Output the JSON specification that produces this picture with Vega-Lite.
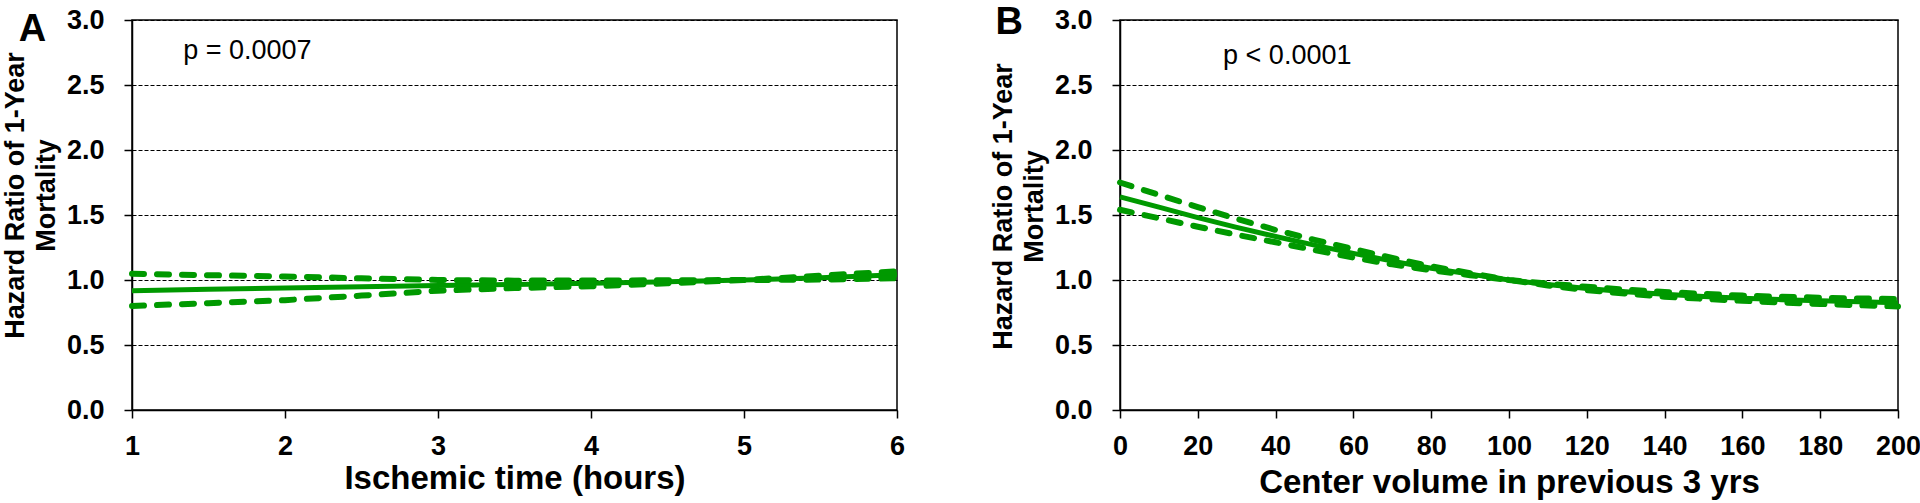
{
  "$schema": "https://vega.github.io/schema/vega-lite/v6.json",
  "padding": {"left": 0, "top": 3, "right": 0, "bottom": 0},
  "bounds": "flush",
  "spacing": 223,
  "background": "white",
  "config": {
    "font": "Liberation Sans",
    "view": {"stroke": "black", "strokeWidth": 1.5},
    "axis": {
      "domainColor": "black", "domainWidth": 1.5,
      "tickColor": "black", "tickWidth": 1.5, "tickSize": 8,
      "labelFont": "Liberation Sans", "labelFontWeight": "bold", "labelFontSize": 27, "labelColor": "black",
      "labelFlush": false, "labelOverlap": false,
      "titleFont": "Liberation Sans", "titleFontWeight": "bold", "titleColor": "black"
    }
  },
  "datasets": {
    "A": [
      {"hours": 1.0, "band": "estimate", "hr": 0.918}, {"hours": 1.0, "band": "lower", "hr": 0.800}, {"hours": 1.0, "band": "upper", "hr": 1.048},
      {"hours": 1.5, "band": "estimate", "hr": 0.928}, {"hours": 1.5, "band": "lower", "hr": 0.822}, {"hours": 1.5, "band": "upper", "hr": 1.037},
      {"hours": 2.0, "band": "estimate", "hr": 0.938}, {"hours": 2.0, "band": "lower", "hr": 0.845}, {"hours": 2.0, "band": "upper", "hr": 1.027},
      {"hours": 2.5, "band": "estimate", "hr": 0.948}, {"hours": 2.5, "band": "lower", "hr": 0.880}, {"hours": 2.5, "band": "upper", "hr": 1.013},
      {"hours": 3.0, "band": "estimate", "hr": 0.958}, {"hours": 3.0, "band": "lower", "hr": 0.918}, {"hours": 3.0, "band": "upper", "hr": 1.000},
      {"hours": 3.5, "band": "estimate", "hr": 0.966}, {"hours": 3.5, "band": "lower", "hr": 0.938}, {"hours": 3.5, "band": "upper", "hr": 0.995},
      {"hours": 4.0, "band": "estimate", "hr": 0.975}, {"hours": 4.0, "band": "lower", "hr": 0.952}, {"hours": 4.0, "band": "upper", "hr": 0.996},
      {"hours": 4.5, "band": "estimate", "hr": 0.987}, {"hours": 4.5, "band": "lower", "hr": 0.975}, {"hours": 4.5, "band": "upper", "hr": 0.998},
      {"hours": 5.0, "band": "estimate", "hr": 1.000}, {"hours": 5.0, "band": "lower", "hr": 1.000}, {"hours": 5.0, "band": "upper", "hr": 1.000},
      {"hours": 5.5, "band": "estimate", "hr": 1.018}, {"hours": 5.5, "band": "lower", "hr": 1.003}, {"hours": 5.5, "band": "upper", "hr": 1.033},
      {"hours": 6.0, "band": "estimate", "hr": 1.040}, {"hours": 6.0, "band": "lower", "hr": 1.013}, {"hours": 6.0, "band": "upper", "hr": 1.067}
    ],
    "B": [
      {"volume": 0, "band": "estimate", "hr": 1.640}, {"volume": 0, "band": "lower", "hr": 1.540}, {"volume": 0, "band": "upper", "hr": 1.750},
      {"volume": 10, "band": "estimate", "hr": 1.560}, {"volume": 10, "band": "lower", "hr": 1.475}, {"volume": 10, "band": "upper", "hr": 1.655},
      {"volume": 20, "band": "estimate", "hr": 1.480}, {"volume": 20, "band": "lower", "hr": 1.410}, {"volume": 20, "band": "upper", "hr": 1.560},
      {"volume": 30, "band": "estimate", "hr": 1.405}, {"volume": 30, "band": "lower", "hr": 1.348}, {"volume": 30, "band": "upper", "hr": 1.470},
      {"volume": 40, "band": "estimate", "hr": 1.335}, {"volume": 40, "band": "lower", "hr": 1.290}, {"volume": 40, "band": "upper", "hr": 1.385},
      {"volume": 50, "band": "estimate", "hr": 1.268}, {"volume": 50, "band": "lower", "hr": 1.230}, {"volume": 50, "band": "upper", "hr": 1.308},
      {"volume": 60, "band": "estimate", "hr": 1.205}, {"volume": 60, "band": "lower", "hr": 1.172}, {"volume": 60, "band": "upper", "hr": 1.238},
      {"volume": 70, "band": "estimate", "hr": 1.145}, {"volume": 70, "band": "lower", "hr": 1.120}, {"volume": 70, "band": "upper", "hr": 1.170},
      {"volume": 80, "band": "estimate", "hr": 1.090}, {"volume": 80, "band": "lower", "hr": 1.075}, {"volume": 80, "band": "upper", "hr": 1.105},
      {"volume": 90, "band": "estimate", "hr": 1.045}, {"volume": 90, "band": "lower", "hr": 1.037}, {"volume": 90, "band": "upper", "hr": 1.053},
      {"volume": 100, "band": "estimate", "hr": 1.000}, {"volume": 100, "band": "lower", "hr": 1.000}, {"volume": 100, "band": "upper", "hr": 1.000},
      {"volume": 110, "band": "estimate", "hr": 0.965}, {"volume": 110, "band": "lower", "hr": 0.958}, {"volume": 110, "band": "upper", "hr": 0.972},
      {"volume": 120, "band": "estimate", "hr": 0.935}, {"volume": 120, "band": "lower", "hr": 0.922}, {"volume": 120, "band": "upper", "hr": 0.948},
      {"volume": 130, "band": "estimate", "hr": 0.910}, {"volume": 130, "band": "lower", "hr": 0.895}, {"volume": 130, "band": "upper", "hr": 0.926},
      {"volume": 140, "band": "estimate", "hr": 0.890}, {"volume": 140, "band": "lower", "hr": 0.872}, {"volume": 140, "band": "upper", "hr": 0.908},
      {"volume": 150, "band": "estimate", "hr": 0.874}, {"volume": 150, "band": "lower", "hr": 0.855}, {"volume": 150, "band": "upper", "hr": 0.893},
      {"volume": 160, "band": "estimate", "hr": 0.860}, {"volume": 160, "band": "lower", "hr": 0.840}, {"volume": 160, "band": "upper", "hr": 0.880},
      {"volume": 170, "band": "estimate", "hr": 0.849}, {"volume": 170, "band": "lower", "hr": 0.827}, {"volume": 170, "band": "upper", "hr": 0.871},
      {"volume": 180, "band": "estimate", "hr": 0.840}, {"volume": 180, "band": "lower", "hr": 0.816}, {"volume": 180, "band": "upper", "hr": 0.864},
      {"volume": 190, "band": "estimate", "hr": 0.832}, {"volume": 190, "band": "lower", "hr": 0.806}, {"volume": 190, "band": "upper", "hr": 0.858},
      {"volume": 200, "band": "estimate", "hr": 0.825}, {"volume": 200, "band": "lower", "hr": 0.797}, {"volume": 200, "band": "upper", "hr": 0.853}
    ]
  },
  "hconcat": [
    {
      "width": 765,
      "height": 390,
      "encoding": {
        "x": {
          "field": "hours", "type": "quantitative",
          "scale": {"domain": [1, 6], "nice": false, "zero": false},
          "axis": {"values": [1, 2, 3, 4, 5, 6], "title": "Ischemic time (hours)", "titleFontSize": 33, "labelPadding": 15, "titlePadding": 3, "grid": false}
        },
        "y": {
          "field": "hr", "type": "quantitative",
          "scale": {"domain": [0, 3], "nice": false},
          "axis": {
            "values": [0, 0.5, 1, 1.5, 2, 2.5, 3], "format": ".1f",
            "title": ["Hazard Ratio of 1-Year", "Mortality"],
            "titleFontSize": 27, "titleLineHeight": 31, "titlePadding": 6, "titleY": 175,
            "labelPadding": 20,
            "grid": true, "gridDash": [4, 2], "gridColor": "black", "gridWidth": 1
          }
        }
      },
      "layer": [
        {
          "data": {"name": "A"},
          "transform": [{"filter": "datum.band === 'estimate'"}],
          "mark": {"type": "line", "color": "#009900", "strokeWidth": 5}
        },
        {
          "data": {"name": "A"},
          "transform": [{"filter": "datum.band !== 'estimate'"}],
          "mark": {"type": "line", "color": "#009900", "strokeWidth": 6, "strokeDash": [12, 13], "strokeCap": "round"},
          "encoding": {"detail": {"field": "band"}}
        },
        {
          "data": {"values": [{"hours": 1.335, "hr": 2.70, "label": "p = 0.0007"}]},
          "mark": {"type": "text", "align": "left", "baseline": "alphabetic", "fontSize": 27, "font": "Liberation Sans", "color": "black"},
          "encoding": {"text": {"field": "label"}}
        },
        {
          "data": {"values": [{"hours": 0.26, "hr": 2.84, "label": "A"}]},
          "mark": {"type": "text", "align": "left", "baseline": "alphabetic", "fontSize": 38, "fontWeight": "bold", "font": "Liberation Sans", "color": "black"},
          "encoding": {"text": {"field": "label"}}
        }
      ]
    },
    {
      "width": 778,
      "height": 390,
      "encoding": {
        "x": {
          "field": "volume", "type": "quantitative",
          "scale": {"domain": [0, 200], "nice": false},
          "axis": {"values": [0, 20, 40, 60, 80, 100, 120, 140, 160, 180, 200], "title": "Center volume in previous 3 yrs", "titleFontSize": 33, "labelPadding": 15, "titlePadding": 7, "grid": false}
        },
        "y": {
          "field": "hr", "type": "quantitative",
          "scale": {"domain": [0, 3], "nice": false},
          "axis": {
            "values": [0, 0.5, 1, 1.5, 2, 2.5, 3], "format": ".1f",
            "title": ["Hazard Ratio of 1-Year", "Mortality"],
            "titleFontSize": 27, "titleLineHeight": 31, "titlePadding": 6, "titleY": 186,
            "labelPadding": 20,
            "grid": true, "gridDash": [4, 2], "gridColor": "black", "gridWidth": 1
          }
        }
      },
      "layer": [
        {
          "data": {"name": "B"},
          "transform": [{"filter": "datum.band === 'estimate'"}],
          "mark": {"type": "line", "color": "#009900", "strokeWidth": 5}
        },
        {
          "data": {"name": "B"},
          "transform": [{"filter": "datum.band !== 'estimate'"}],
          "mark": {"type": "line", "color": "#009900", "strokeWidth": 6, "strokeDash": [12, 13], "strokeCap": "round"},
          "encoding": {"detail": {"field": "band"}}
        },
        {
          "data": {"values": [{"volume": 26.5, "hr": 2.665, "label": "p < 0.0001"}]},
          "mark": {"type": "text", "align": "left", "baseline": "alphabetic", "fontSize": 27, "font": "Liberation Sans", "color": "black"},
          "encoding": {"text": {"field": "label"}}
        },
        {
          "data": {"values": [{"volume": -32, "hr": 2.89, "label": "B"}]},
          "mark": {"type": "text", "align": "left", "baseline": "alphabetic", "fontSize": 38, "fontWeight": "bold", "font": "Liberation Sans", "color": "black"},
          "encoding": {"text": {"field": "label"}}
        }
      ]
    }
  ]
}
